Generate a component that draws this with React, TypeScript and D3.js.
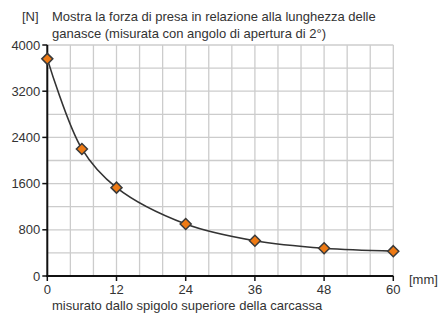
import React from "react";
import * as d3 from "d3";

const lengthsMm = [0, 6, 12, 24, 36, 48, 60];
const forceN = [3760, 2200, 1530, 900, 610, 480, 430];
const xTicks = [0, 12, 24, 36, 48, 60];
const yTicks = [0, 800, 1600, 2400, 3200, 4000];
const titleLines = [
  "Mostra la forza di presa in relazione alla lunghezza delle",
  "ganasce (misurata con angolo di apertura di 2°)",
];
const yUnit = "[N]";
const xUnit = "[mm]";
const caption = "misurato dallo spigolo superiore della carcassa";

export default function App() {
  const W = 443, H = 315;
  const left = 47.3, right = 393.3, top = 45, bottom = 276;
  const x = d3.scaleLinear().domain([0, 60]).range([left, right]);
  const y = d3.scaleLinear().domain([0, 4000]).range([bottom, top]);
  const vGrid = d3.range(0, 61, 4);
  const hGrid = d3.range(0, 4001, 400);
  const pts = lengthsMm.map((v, i) => [x(v), y(forceN[i])] as [number, number]);
  const line = d3.line().curve(d3.curveCatmullRom.alpha(0.5))(pts) || "";
  const font = "'Liberation Sans', Arial, sans-serif";
  const txt = "#333";
  const s = 5.5;
  return (
    <svg width={W} height={H} style={{ position: "absolute", left: 0, top: 0 }} fontFamily={font}>
      <rect width={W} height={H} fill="#fff" />
      {vGrid.map((g) => (
        <line key={"v" + g} x1={x(g)} x2={x(g)} y1={top} y2={bottom} stroke="#cccccc" strokeWidth={1.3} />
      ))}
      {hGrid.map((g) => (
        <line key={"h" + g} x1={left} x2={right} y1={y(g)} y2={y(g)} stroke="#cccccc" strokeWidth={1.3} />
      ))}
      <line x1={left} x2={left} y1={top} y2={bottom + 1} stroke="#111" strokeWidth={2} />
      <line x1={left - 1} x2={right} y1={bottom} y2={bottom} stroke="#111" strokeWidth={2} />
      {yTicks.map((t) => (
        <g key={"yt" + t}>
          <line x1={left - 5} x2={left} y1={y(t)} y2={y(t)} stroke="#111" strokeWidth={1.5} />
          <text x={left - 7} y={y(t) + 4.5} textAnchor="end" fontSize={13} fill={txt}>{t}</text>
        </g>
      ))}
      {xTicks.map((t) => (
        <g key={"xt" + t}>
          <line x1={x(t)} x2={x(t)} y1={bottom} y2={bottom + 5} stroke="#111" strokeWidth={1.5} />
          <text x={x(t)} y={bottom + 18} textAnchor="middle" fontSize={13} fill={txt}>{t}</text>
        </g>
      ))}
      <path d={line} fill="none" stroke="#333" strokeWidth={1.6} />
      {pts.map(([px, py], i) => (
        <path key={"m" + i} d={`M${px},${py - s}L${px + s},${py}L${px},${py + s}L${px - s},${py}Z`} fill="#ee7a14" stroke="#3a3a3a" strokeWidth={1.5} />
      ))}
      <text x={22} y={21} fontSize={13} fill={txt}>{yUnit}</text>
      {titleLines.map((l, i) => (
        <text key={"t" + i} x={52} y={21 + i * 17} fontSize={13} fill={txt}>{l}</text>
      ))}
      <text x={409} y={284} fontSize={13} fill={txt}>{xUnit}</text>
      <text x={52} y={310} fontSize={13} fill={txt}>{caption}</text>
    </svg>
  );
}
